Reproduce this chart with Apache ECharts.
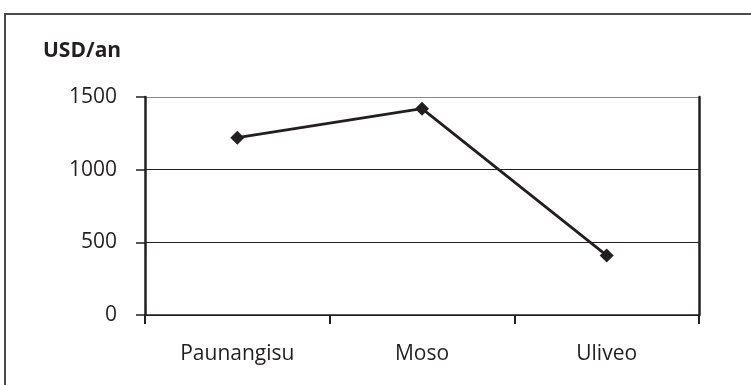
<!DOCTYPE html>
<html>
<head>
<meta charset="utf-8">
<script src="https://cdn.jsdelivr.net/npm/echarts@6/dist/echarts.min.js"></script>
<style>
  html, body { margin: 0; padding: 0; background: #fff; }
  #chart { width: 751px; height: 385px; }
</style>
</head>
<body>
<div id="chart"></div>
<script>
// Annual income per village (USD per year)
const categories = ['Paunangisu', 'Moso', 'Uliveo'];
const incomeValues = [1220, 1420, 410];
const yTicks = { min: 0, max: 1500, interval: 500 };
const unitLabel = 'USD/an';

const ink = '#231f20';
const font = '"Open Sans", "DejaVu Sans", sans-serif';

const chart = echarts.init(document.getElementById('chart'), null, { renderer: 'canvas' });

chart.setOption({
  backgroundColor: '#fff',
  animation: false,
  graphic: [
    {
      type: 'rect',
      shape: { x: 5, y: 14, width: 800, height: 420 },
      style: { fill: 'none', stroke: '#4a4a4a', lineWidth: 2 }
    },
    {
      type: 'text',
      left: 43, top: 41,
      style: { text: unitLabel, font: 'bold 21px ' + font, fill: ink }
    }
  ],
  grid: { left: 145, right: 52, top: 97, bottom: 70, containLabel: false },
  xAxis: {
    type: 'category',
    data: categories,
    boundaryGap: true,
    axisLine: { lineStyle: { color: ink, width: 1.5 } },
    axisTick: { show: true, interval: 0, length: 9, lineStyle: { color: ink, width: 2 } },
    axisLabel: { color: ink, fontFamily: font, fontSize: 21, margin: 29 },
    splitLine: { show: false }
  },
  yAxis: [
    {
      type: 'value',
      min: yTicks.min, max: yTicks.max, interval: yTicks.interval,
      axisLine: { show: true, lineStyle: { color: ink, width: 2.5 } },
      axisTick: { show: true, length: 9, lineStyle: { color: ink, width: 1.5 } },
      axisLabel: {
        color: ink, fontFamily: font, fontSize: 21, margin: 28,
        formatter: (v) => String(v), padding: [4, 0, 0, 0]
      },
      splitLine: { show: true, lineStyle: { color: [ink, ink, ink, '#8a8a8a'], width: 1.2 } }
    },
    {
      type: 'value',
      position: 'right',
      min: yTicks.min, max: yTicks.max, interval: yTicks.interval,
      axisLine: { show: true, lineStyle: { color: ink, width: 2.5 } },
      axisTick: { show: false },
      axisLabel: { show: false },
      splitLine: { show: false }
    }
  ],
  series: [
    {
      type: 'line',
      data: incomeValues,
      yAxisIndex: 0,
      symbol: 'diamond',
      symbolSize: 14,
      lineStyle: { color: ink, width: 2.8 },
      itemStyle: { color: ink },
      label: { show: false }
    }
  ]
});
</script>
</body>
</html>
